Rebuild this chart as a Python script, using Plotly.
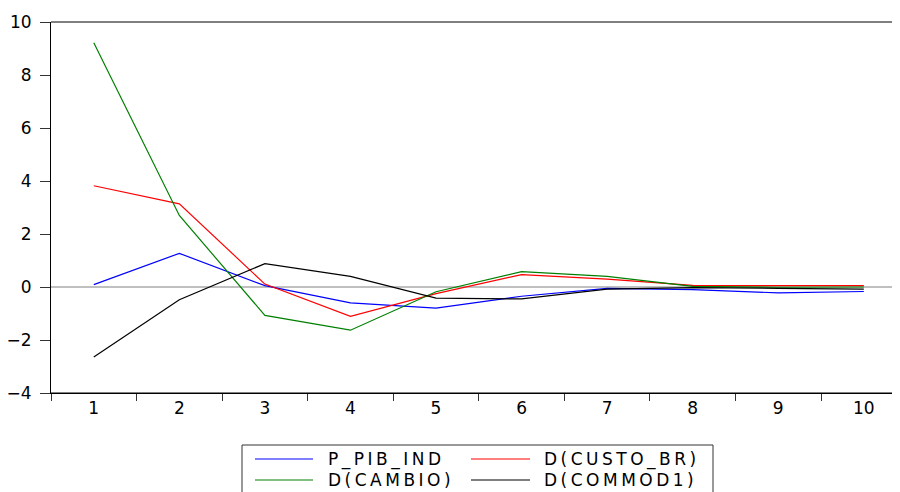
import plotly.graph_objects as go

periods = ["1", "2", "3", "4", "5", "6", "7", "8", "9", "10"]
series_names = ["P_PIB_IND", "D(CUSTO_BR)", "D(CAMBIO)", "D(COMMOD1)"]
series_colors = ["#0000FF", "#FF0000", "#008000", "#000000"]

p_pib_ind = [0.09, 1.27, 0.05, -0.60, -0.80, -0.35, -0.05, -0.10, -0.22, -0.17]
d_custo_br = [3.82, 3.14, 0.11, -1.11, -0.25, 0.47, 0.30, 0.06, 0.05, 0.05]
d_cambio = [9.22, 2.70, -1.07, -1.63, -0.18, 0.58, 0.40, 0.02, -0.01, 0.00]
d_commod1 = [-2.64, -0.48, 0.88, 0.40, -0.42, -0.45, -0.08, -0.02, -0.05, -0.08]

y_ticks = [-4, -2, 0, 2, 4, 6, 8, 10]

all_series = [p_pib_ind, d_custo_br, d_cambio, d_commod1]

OFF = 8
W, H = 900 - OFF, 492 - OFF
ML, MT = 51 - OFF, 22 - OFF
AXIS_BOTTOM = 393 - OFF
MB = H - AXIS_BOTTOM
plot_w = W - ML
plot_h = H - MT - MB
cat_px = 85.56
y_min, y_max = -4, 10

fig = go.Figure()
for name, color, vals in zip(series_names, series_colors, all_series):
    fig.add_trace(go.Scatter(x=periods, y=vals, mode="lines", name=name,
                             line=dict(color=color, width=1.2), showlegend=False))

FONT = "DejaVu Sans"

fig.update_layout(
    width=W, height=H, autosize=False,
    margin=dict(l=ML, r=0, t=MT, b=MB, autoexpand=False),
    paper_bgcolor="white", plot_bgcolor="white",
    font=dict(family=FONT, size=17, color="black"),
    xaxis=dict(type="category", range=[-0.5, -0.5 + plot_w / cat_px],
               showgrid=False, zeroline=False,
               showline=True, linecolor="black", linewidth=1, mirror=False,
               ticks="outside", tickson="boundaries", ticklen=7, tickcolor="#333333",
               tickfont=dict(family=FONT, size=17)),
    yaxis=dict(range=[y_min, y_max], tickvals=y_ticks, showgrid=False,
               zeroline=False,
               showline=True, linecolor="black", linewidth=1, mirror=False,
               ticks="outside", ticklen=10, tickcolor="#333333",
               ticklabelstandoff=5,
               tickfont=dict(family=FONT, size=17)),
)

def px_x(px):
    return (px - OFF - ML) / plot_w

def px_y(py):
    return (AXIS_BOTTOM - (py - OFF)) / plot_h

# frame lines (top, bottom) and zero reference line, running to the right edge
zero_frac = (0 - y_min) / (y_max - y_min)
shapes = [dict(type="line", xref="paper", yref="paper", x0=0, x1=1.05, y0=zero_frac, y1=zero_frac,
               line=dict(color="#808080", width=1), layer="below")]
shapes += [dict(type="line", xref="paper", yref="paper", x0=0, x1=1.05, y0=yy, y1=yy,
                line=dict(color="black", width=1)) for yy in (0, 1)]

# Manual legend (box cut off at bottom as in reference); positions in screen px
shapes.append(dict(type="rect", xref="paper", yref="paper",
                   x0=px_x(242), x1=px_x(713), y0=px_y(445), y1=px_y(520),
                   line=dict(color="#333333", width=1), fillcolor="white", layer="above"))
annotations = []
col_line = [(255, 313, 326), (471, 530, 542)]
row_y = [459, 480]
for i, (name, color) in enumerate(zip(series_names, series_colors)):
    r, c = divmod(i, 2)
    lx0, lx1, tx = col_line[c]
    yy = row_y[r]
    shapes.append(dict(type="line", xref="paper", yref="paper",
                       x0=px_x(lx0), x1=px_x(lx1), y0=px_y(yy), y1=px_y(yy),
                       line=dict(color=color, width=1.2), layer="above"))
    annotations.append(dict(xref="paper", yref="paper", x=px_x(tx), y=px_y(yy),
                            text='<span style="letter-spacing:3.5px">' + name + "</span>",
                            showarrow=False, xanchor="left", yanchor="middle",
                            font=dict(family=FONT, size=17, color="black")))

fig.update_layout(shapes=shapes, annotations=annotations)

fig.write_html("out.html")
